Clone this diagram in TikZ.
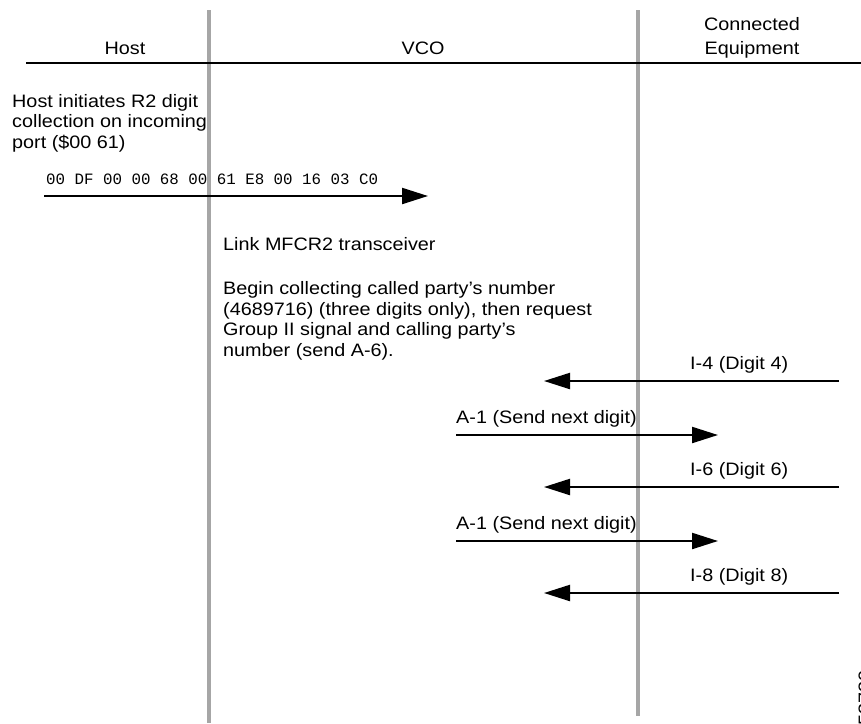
\documentclass[tikz,border=0pt]{standalone}
\usepackage{fontspec}
\setmainfont[FakeStretch=1.1]{Liberation Sans}
\setmonofont{Liberation Mono}
\usetikzlibrary{arrows.meta, positioning}
\tikzstyle{divider} = [line width=4pt, black!35]
\tikzstyle{rule}    = [line width=2pt, black]
\tikzstyle{msg}     = [line width=2.2pt, -{Triangle[length=26pt,width=16pt]}]
\tikzstyle{lbl}     = [inner sep=0pt, anchor=base west, align=left, font=\fontsize{18}{20.5}\selectfont]
\tikzstyle{head}    = [inner sep=0pt, anchor=base, align=center, font=\fontsize{18}{23.5}\selectfont]
\tikzstyle{hex}     = [inner sep=0pt, anchor=base west, font=\ttfamily\fontsize{15.8}{18}\selectfont]

\begin{document}
\begin{tikzpicture}[x=1pt, y=-1pt]
\useasboundingbox (0,0) rectangle (861,723);

% column dividers
\draw[divider] (209,10) -- (209,723);
\draw[divider] (638,10) -- (638,716);
\draw[rule] (26,63) -- (861,63);

% headings (base = last line)
\node[head] (host)  at (125,54) {Host};
\node[head] (vco)   at (423,54) {VCO};
\node[head] (equip) at (752,54) {Connected\\Equipment};

% host request
\node[lbl] (hostnote) at (12,148) {Host initiates R2 digit\\collection on incoming\\port (\$00 61)};
\node[hex] (hexmsg) at (46,184) {00 DF 00 00 68 00 61 E8 00 16 03 C0};
\coordinate (m0s) at (44,196);
\coordinate (m0e) at (428,196);
\draw[msg] (m0s) -- (m0e);

% VCO actions
\node[lbl] (link)    at (223,250) {Link MFCR2 transceiver};
\node[lbl] (collect) at (223,356) {Begin collecting called party’s number\\(4689716) (three digits only), then request\\Group II signal and calling party’s\\number (send A-6).};

% register signalling
\coordinate (i4s) at (839,381);
\coordinate (i4e) at (544,381);
\draw[msg] (i4s) -- (i4e);
\node[lbl] (i4) at (690,369) {I-4 (Digit 4)};

\coordinate (a1s) at (456,435);
\coordinate (a1e) at (718,435);
\draw[msg] (a1s) -- (a1e);
\node[lbl] (a1) at (456,423) {A-1 (Send next digit)};

\coordinate (i6s) at (839,487);
\coordinate (i6e) at (544,487);
\draw[msg] (i6s) -- (i6e);
\node[lbl] (i6) at (690,475) {I-6 (Digit 6)};

\coordinate (a2s) at (456,541);
\coordinate (a2e) at (718,541);
\draw[msg] (a2s) -- (a2e);
\node[lbl] (a2) at (456,529) {A-1 (Send next digit)};

\coordinate (i8s) at (839,593);
\coordinate (i8e) at (544,593);
\draw[msg] (i8s) -- (i8e);
\node[lbl] (i8) at (690,581) {I-8 (Digit 8)};

% figure number
\node[inner sep=0pt, anchor=base, rotate=90, font=\fontsize{18}{20}\selectfont] (figid) at (871,698) {53720};

\end{tikzpicture}
\end{document}
